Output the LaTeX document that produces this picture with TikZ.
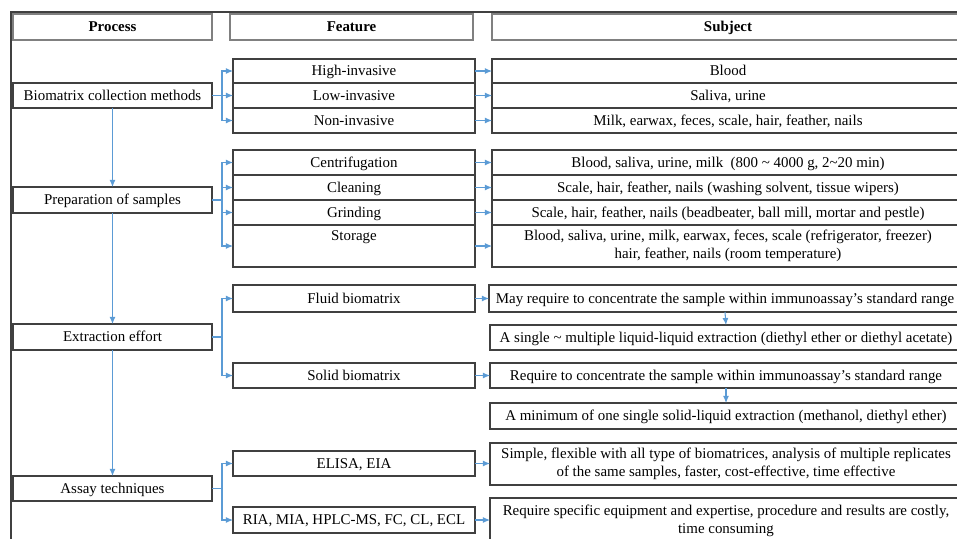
\documentclass[tikz,border=0pt]{standalone}
\usepackage{fontspec}
\setmainfont{Liberation Serif}
\usetikzlibrary{arrows.meta, positioning, calc}
\definecolor{linkblue}{RGB}{91,155,213}
\definecolor{boxgray}{RGB}{64,64,64}
\tikzset{
	x=0.02cm,
	y=-0.02cm,
	font=\fontsize{8.5}{10.2}\selectfont,
	size/.style 2 args={
		minimum width=#1*0.02cm,
		minimum height=#2*0.02cm
	},
	frame/.style={
		draw=boxgray,
		line width=.6pt,
		inner sep=0pt,
		outer sep=0pt,
		anchor=north west
	},
	cell/.style={
		frame,
		text height=7pt,
		text depth=1.5pt
	},
	multi/.style={
		frame,
		align=center
	},
	head/.style={
		cell,
		draw=gray,
		line width=.9pt,
		font=\fontsize{8.5}{10.2}\selectfont\bfseries
	},
	link/.style={
		draw=linkblue,
		line width=.6pt,
		-{Latex[length=4pt,width=3.4pt]}
	}
}

\begin{document}
\begin{tikzpicture}
\useasboundingbox (0,0) rectangle (957,538);
\clip (0,0) rectangle (957,538);

% ---
% Frame and headers
% ---
\draw[boxgray, line width=.7pt] (11,12) rectangle (1000,600);
\node[head, size={199}{26}] (hproc) at (13,14) {Process};
\node[head, size={243}{26}] (hfeat) at (230,14) {Feature};
\node[head, size={472}{26}] (hsubj) at (492,14) {Subject};

% ---
% Process column
% ---
\node[cell, size={199}{25}] (proc1) at (13,83) {Biomatrix collection methods};
\node[cell, size={199}{26}] (proc2) at (13,187) {Preparation of samples};
\node[cell, size={199}{26}] (proc3) at (13,324) {Extraction effort};
\node[cell, size={199}{25}] (proc4) at (13,476) {Assay techniques};

% ---
% Feature column
% ---
\node[cell, size={242}{24}] (f11) at (233,59) {High-invasive};
\node[cell, size={242}{25}] (f12) at (233,83) {Low-invasive};
\node[cell, size={242}{25}] (f13) at (233,108) {Non-invasive};
\node[cell, size={242}{25}] (f21) at (233,150) {Centrifugation};
\node[cell, size={242}{25}] (f22) at (233,175) {Cleaning};
\node[cell, size={242}{25}] (f23) at (233,200) {Grinding};
\node[multi, size={242}{42}] (f24) at (233,225) {\strut Storage\\ \strut};
\node[cell, size={242}{27}] (f31) at (233,285) {Fluid biomatrix};
\node[cell, size={242}{25}] (f32) at (233,363) {Solid biomatrix};
\node[cell, size={242}{25}] (f41) at (233,451) {ELISA, EIA};
\node[cell, size={242}{26}] (f42) at (233,507) {RIA, MIA, HPLC-MS, FC, CL, ECL};

% ---
% Subject column
% ---
\node[cell, size={472}{24}] (s11) at (492,59) {Blood};
\node[cell, size={472}{25}] (s12) at (492,83) {Saliva, urine};
\node[cell, size={472}{25}] (s13) at (492,108) {Milk, earwax, feces, scale, hair, feather, nails};
\node[cell, size={472}{25}] (s21) at (492,150) {Blood, saliva, urine, milk~ (800 \textasciitilde{} 4000 g, 2\textasciitilde20 min)};
\node[cell, size={472}{25}] (s22) at (492,175) {Scale, hair, feather, nails (washing solvent, tissue wipers)};
\node[cell, size={472}{25}] (s23) at (492,200) {Scale, hair, feather, nails (beadbeater, ball mill, mortar and pestle)};
\node[multi, size={472}{42}] (s24) at (492,225) {Blood, saliva, urine, milk, earwax, feces, scale (refrigerator, freezer)\\hair, feather, nails (room temperature)};
\node[cell, size={472}{27}] (s31) at (489,285) {May require to concentrate the sample within immunoassay’s standard range};
\node[cell, size={472}{25}] (s32) at (490,325) {A single \textasciitilde{} multiple liquid-liquid extraction (diethyl ether or diethyl acetate)};
\node[cell, size={472}{25}] (s33) at (490,363) {Require to concentrate the sample within immunoassay’s standard range};
\node[cell, size={472}{26}] (s34) at (490,403) {A minimum of one single solid-liquid extraction (methanol, diethyl ether)};
\node[multi, size={472}{42}] (s41) at (490,443) {Simple, flexible with all type of biomatrices, analysis of multiple replicates\\of the same samples, faster, cost-effective, time effective};
\node[multi, size={472}{45}] (s42) at (490,498) {Require specific equipment and expertise, procedure and results are costly,\\time consuming};

% ---
% Connections
% ---
\draw[link] (proc1.south) -- (proc2.north);
\draw[link] (proc2.south) -- (proc3.north);
\draw[link] (proc3.south) -- (proc4.north);

\foreach \f in {f11,f12,f13}
	\draw[link] (proc1.east) -- ++(10,0) |- (\f.west);
\foreach \f in {f21,f22,f23,f24}
	\draw[link] (proc2.east) -- ++(10,0) |- (\f.west);
\foreach \f in {f31,f32}
	\draw[link] (proc3.east) -- ++(10,0) |- (\f.west);
\foreach \f in {f41,f42}
	\draw[link] (proc4.east) -- ++(10,0) |- (\f.west);

\foreach \f/\s in {f11/s11,f12/s12,f13/s13,f21/s21,f22/s22,f23/s23,f24/s24,f31/s31,f32/s33,f41/s41,f42/s42}
	\draw[link] (\f.east) -- (\f.east -| \s.west);

\draw[link] (s31.south) -- (s32.north);
\draw[link] (s33.south) -- (s34.north);
\end{tikzpicture}
\end{document}
